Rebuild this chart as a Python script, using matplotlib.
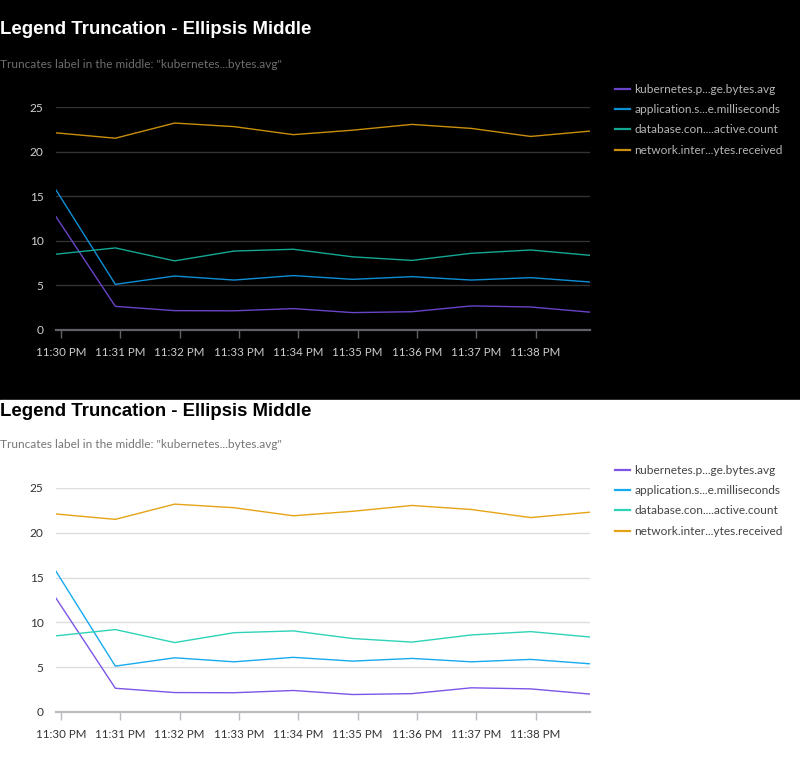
import datetime as dt
import matplotlib
matplotlib.use("Agg")
import matplotlib.pyplot as plt
import matplotlib.dates as mdates
from matplotlib.patches import Rectangle

plt.rcParams['font.family'] = ['Lato', 'DejaVu Sans']

# data: one sample per minute, starting a few seconds before 11:30 PM
start = dt.datetime(2024, 1, 1, 23, 29, 55)
times = [start + dt.timedelta(minutes=k) for k in range(10)]

series_names = [
    "kubernetes.p...ge.bytes.avg",
    "application.s...e.milliseconds",
    "database.con....active.count",
    "network.inter...ytes.received",
]
kubernetes_vals = [12.7, 2.65, 2.17, 2.15, 2.4, 1.95, 2.05, 2.7, 2.58, 2.0]
application_vals = [15.7, 5.12, 6.05, 5.6, 6.1, 5.68, 5.98, 5.6, 5.87, 5.38]
database_vals = [8.5, 9.2, 7.75, 8.85, 9.05, 8.2, 7.8, 8.6, 8.97, 8.37]
network_vals = [22.1, 21.5, 23.2, 22.8, 21.9, 22.4, 23.05, 22.6, 21.7, 22.3]
all_vals = [kubernetes_vals, application_vals, database_vals, network_vals]

title = "Legend Truncation - Ellipsis Middle"
subtitle = 'Truncates label in the middle: "kubernetes...bytes.avg"'

themes = {
    "dark": dict(bg="#000000", title="#ffffff", sub="#6e6e6e", tick="#cfcfcf",
                 grid="#333333", axis="#5f6166", legend="#b5b5b5",
                 colors=["#6a44c9", "#0d8fd6", "#14a894", "#c98f0c"]),
    "light": dict(bg="#ffffff", title="#000000", sub="#777777", tick="#333333",
                  grid="#dddddd", axis="#b9bcc0", legend="#444444",
                  colors=["#7d55e8", "#16aaf0", "#2ed3b7", "#e5a316"]),
}

W, H = 800, 763
fig = plt.figure(figsize=(W / 100, H / 100), dpi=100)


def fy(py):
    return 1 - py / H


def draw_panel(top_px, theme, ax_box):
    t = themes[theme]
    fig.patches.append(Rectangle((0, fy(top_px + 400 if theme == "dark" else H)), 1,
                                 (400 if theme == "dark" else H - 400) / H,
                                 transform=fig.transFigure, color=t["bg"], zorder=-10))
    fig.text(0, fy(top_px + 30), title, fontsize=13.4, fontweight='bold', color=t["title"],
             family=['Liberation Sans', 'DejaVu Sans'], va='center', ha='left')
    fig.text(0, fy(top_px + 64), subtitle, fontsize=8.6, color=t["sub"], va='center', ha='left')

    ax = fig.add_axes(ax_box)
    ax.set_facecolor(t["bg"])
    handles = []
    for vals, name, col in zip(all_vals, series_names, t["colors"]):
        h, = ax.plot(times, vals, color=col, lw=1.0, label=name)
        handles.append(h)
    ax.set_xlim(times[0], times[-1])
    ax.set_ylim(0, 25)
    ax.set_yticks([0, 5, 10, 15, 20, 25])
    ax.grid(axis='y', color=t["grid"], lw=1)
    ax.set_axisbelow(True)
    for s in ['top', 'right', 'left']:
        ax.spines[s].set_visible(False)
    ax.spines['bottom'].set_color(t["axis"])
    ax.spines['bottom'].set_linewidth(1.6)
    ax.xaxis.set_major_locator(mdates.MinuteLocator())
    ax.xaxis.set_major_formatter(mdates.DateFormatter('%I:%M %p'))
    ax.tick_params(axis='x', colors=t["axis"], length=6, width=1, labelsize=8.3,
                   labelcolor=t["tick"], pad=6)
    ax.tick_params(axis='y', length=0, labelsize=8.6, labelcolor=t["tick"], pad=9)

    leg = fig.legend(handles=handles, loc='upper left',
                     bbox_to_anchor=(604 / W, fy(top_px + 73)), frameon=False,
                     fontsize=8.6, handlelength=1.25, handletextpad=0.4,
                     labelspacing=0.78)
    for txt in leg.get_texts():
        txt.set_color(t["legend"])
    for lh in leg.legend_handles:
        lh.set_linewidth(1.6)
    return ax


draw_panel(0, "dark", [56 / W, fy(330), 534 / W, (330 - 107) / H])
draw_panel(381, "light", [56 / W, fy(712), 534 / W, (712 - 488) / H])

fig.savefig("out.png", dpi=100, facecolor="white")
